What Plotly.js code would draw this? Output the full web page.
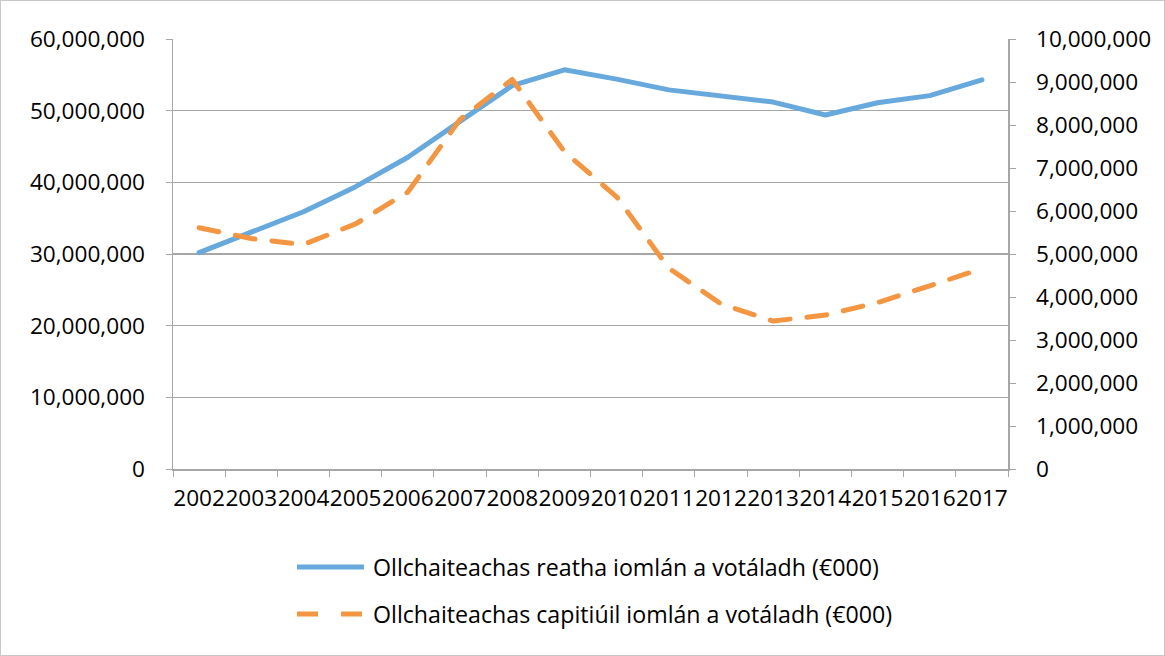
<!DOCTYPE html>
<html>
<head>
<meta charset="utf-8">
<script src="https://cdn.plot.ly/plotly-3.0.1.min.js"></script>
<style>
  html, body { margin: 0; padding: 0; background: #fff; }
  #chart { width: 1165px; height: 656px; box-sizing: border-box; border: 1px solid #c8c8c8; }
  .scatterlayer path.js-line { stroke-linecap: round; stroke-linejoin: round; }
</style>
</head>
<body>
<div id="chart"></div>
<script>
const years = ["2002","2003","2004","2005","2006","2007","2008","2009","2010","2011","2012","2013","2014","2015","2016","2017"];
const currentSpend = [30200000, 33000000, 35900000, 39400000, 43500000, 48500000, 53500000, 55700000, 54400000, 52900000, 52100000, 51200000, 49400000, 51100000, 52100000, 54300000];
const capitalSpend = [5610000, 5360000, 5220000, 5700000, 6440000, 8130000, 9060000, 7380000, 6330000, 4670000, 3840000, 3440000, 3580000, 3870000, 4260000, 4660000];
const seriesNames = ["Ollchaiteachas reatha iomlán a votáladh (€000)", "Ollchaiteachas capitiúil iomlán a votáladh (€000)"];
const leftTicks = [0, 10000000, 20000000, 30000000, 40000000, 50000000, 60000000];
const rightTicks = [0,1000000,2000000,3000000,4000000,5000000,6000000,7000000,8000000,9000000,10000000];

const blue = "#67A9DC";
const orange = "#F39541";
const FONT = "Open Sans, Noto Sans, sans-serif";

const traces = [
  { x: years, y: currentSpend, type: "scatter", mode: "lines", name: seriesNames[0],
    line: { color: blue, width: 5 }, yaxis: "y", showlegend: false },
  { x: years, y: capitalSpend, type: "scatter", mode: "lines", name: seriesNames[1],
    line: { color: orange, width: 5, dash: "20px,17px" }, yaxis: "y2", showlegend: false }
];

const W = 1165, H = 656, L = 172, R = 158, T = 38, B = 188;
const pw = W - L - R, ph = H - T - B;
const px = v => (v - L) / pw;
const py = v => (H - B - v) / ph;

const layout = {
  width: W, height: H,
  margin: { l: L, r: R, t: T, b: B, pad: 0 },
  paper_bgcolor: "rgba(0,0,0,0)",
  plot_bgcolor: "#fff",
  font: { family: FONT, size: 22, color: "#000" },
  showlegend: false,
  xaxis: {
    type: "category", tickson: "boundaries", ticks: "outside", ticklen: 6, tickcolor: "#a6a6a6",
    showline: true, linecolor: "#a6a6a6", linewidth: 1.5, showgrid: false, tickangle: 0,
    ticklabelstandoff: 8, tickfont: { family: FONT, size: 22.6, color: "#000" },
    range: [-0.5, 15.5], fixedrange: true
  },
  yaxis: {
    range: [0, 60000000], tickvals: leftTicks, tickformat: ",d", ticks: "outside", ticklen: 6,
    tickcolor: "#a6a6a6", showline: true, linecolor: "#a6a6a6", linewidth: 1.5,
    showgrid: true, gridcolor: "#a6a6a6", gridwidth: 1.5, zeroline: false,
    ticklabelstandoff: 16, tickfont: { family: FONT, size: 22.6, color: "#000" }
  },
  yaxis2: {
    overlaying: "y", side: "right", range: [0, 10000000], tickvals: rightTicks, tickformat: ",d",
    ticks: "outside", ticklen: 6, tickcolor: "#a6a6a6", showline: true, linecolor: "#a6a6a6",
    linewidth: 1.5, showgrid: false, zeroline: false,
    ticklabelstandoff: 16, tickfont: { family: FONT, size: 22.6, color: "#000" }
  },
  shapes: [
    { type: "line", xref: "paper", yref: "paper", x0: px(296), x1: px(363), y0: py(566), y1: py(566),
      line: { color: blue, width: 5 } },
    { type: "line", xref: "paper", yref: "paper", x0: px(296), x1: px(363), y0: py(613), y1: py(613),
      line: { color: orange, width: 5, dash: "21px,23px" } }
  ],
  annotations: [
    { xref: "paper", yref: "paper", x: px(370), y: py(566), xanchor: "left", yanchor: "middle",
      text: seriesNames[0], showarrow: false, font: { family: FONT, size: 23.2, color: "#000" } },
    { xref: "paper", yref: "paper", x: px(370), y: py(613), xanchor: "left", yanchor: "middle",
      text: seriesNames[1], showarrow: false, font: { family: FONT, size: 23.2, color: "#000" } }
  ]
};

Plotly.newPlot("chart", traces, layout, { staticPlot: true, displayModeBar: false });
</script>
</body>
</html>
